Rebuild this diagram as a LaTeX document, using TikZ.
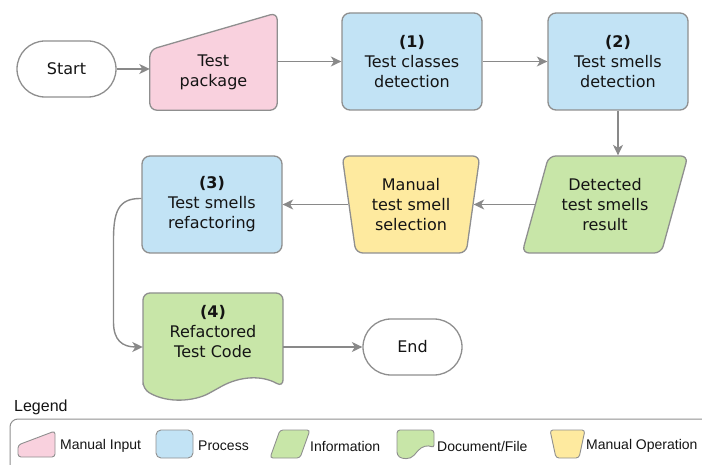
\documentclass[tikz,border=0pt]{standalone}
\usepackage{fontspec}
\setmainfont{DejaVu Sans}
\newfontfamily\legfont{Liberation Sans}
\usetikzlibrary{shapes.geometric,shapes.misc,arrows.meta,calc}
\definecolor{cpink}{HTML}{F9D1DE}
\definecolor{cblue}{HTML}{C2E3F5}
\definecolor{cgreen}{HTML}{C8E6A8}
\definecolor{cyellow}{HTML}{FEEA9F}
\definecolor{cbord}{HTML}{8F8F8F}
\definecolor{carrow}{HTML}{898989}
\definecolor{ctext}{HTML}{141414}
\begin{document}
\begin{tikzpicture}[x=1pt,y=-1pt,
  every node/.style={font=\fontsize{16}{20}\selectfont, align=center, inner sep=0pt, text=ctext},
  shp/.style={draw=cbord, line width=1.3pt},
  term/.style={shp, rounded rectangle, fill=white, minimum width=99pt, minimum height=56pt},
  proc/.style={shp, rectangle, rounded corners=8pt, fill=cblue, minimum width=140pt, minimum height=97pt},
  conn/.style={draw=carrow, line width=1.4pt, -{Stealth[length=10.5pt,width=10pt,inset=3pt]}},
  legicon/.style={draw=cbord, line width=0.9pt, rounded corners=3pt},
  legtext/.style={anchor=west, font=\legfont\fontsize{14}{16}\selectfont}
]
\useasboundingbox (0,0) rectangle (702,465);

% row 1
\node[term] (start) at (66.5,69) {Start};
\node[minimum width=127pt, minimum height=97pt] (pkg) at (213.5,61.5) {};
\filldraw[shp, fill=cpink, rounded corners=7pt] (pkg.south west) -- ($(pkg.north west)+(0,37)$) -- (pkg.north east) -- (pkg.south east) -- cycle;
\node (pkgtext) at ($(pkg.center)+(0,10.5)$) {Test\\package};
\node[proc] (n1) at (412,61.5) {\textbf{(1)}\\Test classes\\detection};
\node[proc] (n2) at (618,61.5) {\textbf{(2)}\\Test smells\\detection};

% row 2
\node[shp, trapezium, trapezium left angle=68.6, trapezium right angle=111.4, trapezium stretches=true,
      minimum width=166pt, minimum height=97pt, fill=cgreen, rounded corners=7pt] (det) at (605,204.5) {Detected\\test smells\\result};
\node[shp, trapezium, trapezium left angle=100.5, trapezium right angle=100.5, trapezium stretches=true,
      minimum width=138pt, minimum height=97pt, fill=cyellow, rounded corners=7pt] (man) at (411,204.5) {Manual\\test smell\\selection};
\node[proc] (n3) at (212,204.5) {\textbf{(3)}\\Test smells\\refactoring};

% row 3
\node[minimum width=140pt, minimum height=108pt] (doc) at (213,347) {};
\filldraw[shp, fill=cgreen, rounded corners=7pt] (143,389) -- (143,293) -- (283,293) -- (283,387)
  .. controls (262,375) and (240,376) .. (215,390) .. controls (195,401) and (168,404) .. (143,389) -- cycle;
\node (doctext) at (213,332) {\textbf{(4)}\\Refactored\\Test Code};
\node[term] (end) at (412.5,347) {End};

% connectors
\draw[conn] (start.east) -- (start.east -| pkg.west);
\draw[conn] (pkg.east) -- (n1.west);
\draw[conn] (n1.east) -- (n2.west);
\draw[conn] (n2.south) -- (n2.south |- det.top side);
\draw[conn] (det.left side) -- (man.right side);
\draw[conn] (man.left side) -- (n3.east);
\draw[conn] ([yshift=6pt]n3.west) .. controls (118,198) and (113.5,212) .. (113.5,240) -- (113.5,322)
  .. controls (113.5,340) and (122,347) .. (doc.west);
\draw[conn] (doc.east) -- (end.west);

% legend
\node[anchor=west, font=\legfont\fontsize{16}{18}\selectfont] (legtitle) at (14,407) {Legend};
\draw[draw=cbord, line width=1pt, rounded corners=8pt] (10,419) rectangle (730,500);
\filldraw[legicon, fill=cpink] (18,457) -- (18,445) -- (55,431) -- (55,457) -- cycle;
\node[legtext] (l1) at (60,446) {Manual Input};
\filldraw[legicon, fill=cblue, rounded corners=5pt] (156,430) rectangle (193,458);
\node[legtext] (l2) at (198,446) {Process};
\filldraw[legicon, fill=cgreen] (270,458) -- (280,430) -- (310,430) -- (300,458) -- cycle;
\node[legtext] (l3) at (310,446) {Information};
\filldraw[legicon, fill=cgreen] (397,455) -- (397,430) -- (434,430) -- (434,448)
  .. controls (428,445) and (422,446) .. (416,453) .. controls (410,460) and (402,459) .. (397,455) -- cycle;
\node[legtext] (l4) at (437,446) {Document/File};
\filldraw[legicon, fill=cyellow] (550,430) -- (585,430) -- (579,458) -- (556,458) -- cycle;
\node[legtext] (l5) at (586,446) {Manual Operation};
\end{tikzpicture}
\end{document}
